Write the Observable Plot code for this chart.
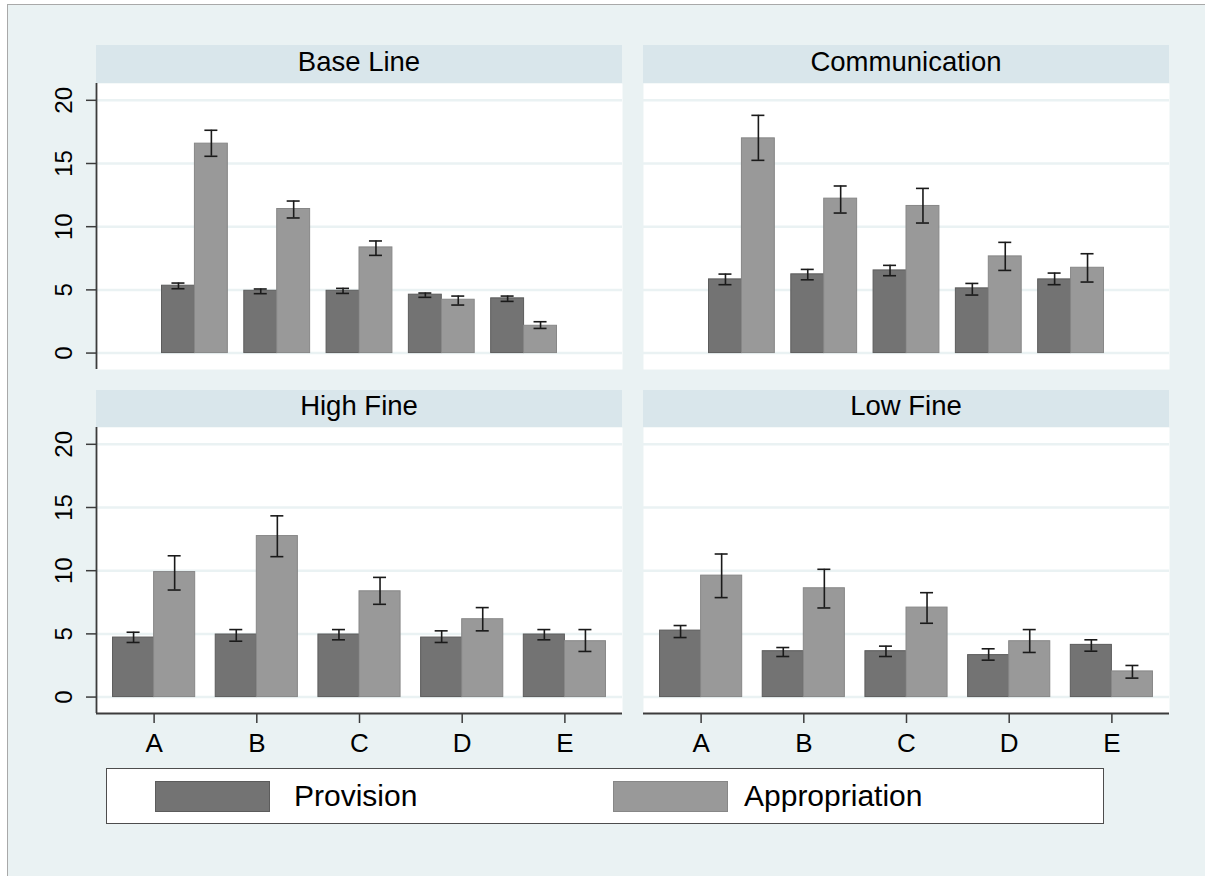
<!DOCTYPE html>
<html>
<head>
<meta charset="utf-8">
<script src="https://cdn.jsdelivr.net/npm/d3@7"></script>
<script src="https://cdn.jsdelivr.net/npm/@observablehq/plot@0.6"></script>
<style>
  body { margin: 0; background: #fff; font-family: "Liberation Sans", Arial, sans-serif; }
  #page { position: relative; width: 1205px; height: 876px; overflow: hidden; background: #fff; }
  #bg { position: absolute; left: 7px; top: 4px; right: 0; bottom: 0; background: #EAF2F3;
        border-left: 1px solid #A9A9A9; border-top: 1px solid #A9A9A9; }
  .hdr { position: absolute; background: #D9E6EB; text-align: center; font-size: 27.5px; color: #000; white-space: nowrap; }
  .plot { position: absolute; }
  .plot svg { display: block; }
  #legend { position: absolute; left: 106px; top: 768px; width: 998px; height: 56px; box-sizing: border-box;
            background: #fff; border: 1.5px solid #4d4d4d; }
  .sw { position: absolute; width: 115px; height: 31px; box-sizing: border-box; }
  .lt { position: absolute; font-size: 30px; line-height: 30px; color: #000; white-space: nowrap; }
</style>
</head>
<body>
<div id="page">
  <div id="bg"></div>
</div>
<script>
// ---------- data ----------
const categories = ["A", "B", "C", "D", "E"];
const panels = ["Base Line", "Communication", "High Fine", "Low Fine"];
const seriesNames = ["Provision", "Appropriation"];
const yTicks = [0, 5, 10, 15, 20];

// per panel (Base Line, Communication, High Fine, Low Fine), per category A..E
const provisionMean = [
  [5.33, 4.93, 4.93, 4.62, 4.33],
  [5.83, 6.23, 6.54, 5.12, 5.83],
  [4.71, 4.95, 4.95, 4.71, 4.95],
  [5.26, 3.63, 3.63, 3.32, 4.13]
];
const provisionLow = [
  [5.09, 4.70, 4.72, 4.41, 4.09],
  [5.41, 5.80, 6.12, 4.59, 5.41],
  [4.32, 4.42, 4.53, 4.32, 4.53],
  [4.71, 3.21, 3.21, 2.92, 3.63]
];
const provisionHigh = [
  [5.54, 5.07, 5.12, 4.75, 4.51],
  [6.25, 6.62, 6.94, 5.51, 6.33],
  [5.13, 5.34, 5.34, 5.24, 5.34],
  [5.66, 3.92, 4.03, 3.82, 4.53]
];
const appropriationMean = [
  [16.57, 11.40, 8.36, 4.22, 2.16],
  [16.99, 12.22, 11.64, 7.65, 6.75],
  [9.89, 12.74, 8.37, 6.16, 4.42],
  [9.61, 8.61, 7.08, 4.42, 2.03]
];
const appropriationLow = [
  [15.57, 10.69, 7.73, 3.80, 1.95],
  [15.25, 11.08, 10.29, 6.54, 5.62],
  [8.47, 11.11, 7.34, 5.24, 3.61],
  [7.87, 7.05, 5.84, 3.53, 1.50]
];
const appropriationHigh = [
  [17.63, 12.03, 8.87, 4.51, 2.48],
  [18.81, 13.22, 13.03, 8.76, 7.86],
  [11.18, 14.34, 9.47, 7.08, 5.34],
  [11.32, 10.11, 8.26, 5.34, 2.50]
];

// ---------- styling / layout ----------
const COLORS = { Provision: { fill: "#737373", stroke: "#5c5c5c" }, Appropriation: { fill: "#999999", stroke: "#878787" } };
const GRID = "#EAF2F3";
const AXIS = "#3c3c3c";
const FONT = "'Liberation Sans', Arial, sans-serif";
const PLOT_W = 526, PLOT_H = 286;
const Y_DOMAIN = [-1.3, 21.33];
const BAR_W = 0.4;
const layout = [
  { left: 96, top: 83, hdrTop: 45, hdrH: 38, showY: true, showX: false, xDomain: [-0.196, 6.196] },
  { left: 643, top: 83, hdrTop: 45, hdrH: 38, showY: false, showX: false, xDomain: [-0.196, 6.196] },
  { left: 96, top: 427, hdrTop: 390, hdrH: 37, showY: true, showX: true, xDomain: [0.439, 5.561] },
  { left: 643, top: 427, hdrTop: 390, hdrH: 37, showY: false, showX: true, xDomain: [0.439, 5.561] }
];

const page = document.getElementById("page");

function rowsFor(k) {
  return categories.flatMap((c, i) => [
    { cat: c, series: "Provision", x1: i + 1 - BAR_W, x2: i + 1, pos: i + 1 - BAR_W / 2,
      v: provisionMean[k][i], lo: provisionLow[k][i], hi: provisionHigh[k][i] },
    { cat: c, series: "Appropriation", x1: i + 1, x2: i + 1 + BAR_W, pos: i + 1 + BAR_W / 2,
      v: appropriationMean[k][i], lo: appropriationLow[k][i], hi: appropriationHigh[k][i] }
  ]);
}

panels.forEach((name, k) => {
  const L = layout[k];
  // header strip
  const h = document.createElement("div");
  h.className = "hdr";
  h.style.left = L.left + "px";
  h.style.top = L.hdrTop + "px";
  h.style.width = PLOT_W + "px";
  h.style.height = L.hdrH + "px";
  h.style.lineHeight = (L.hdrH - 4.5) + "px";
  h.textContent = name;
  page.appendChild(h);

  const rows = rowsFor(k);
  const mL = L.showY ? 56 : 0;
  const mB = L.showX ? 50 : 0;
  const pxPerUnit = PLOT_W / (L.xDomain[1] - L.xDomain[0]);
  const cap = 6.5 / pxPerUnit;

  const marks = [
    Plot.frame({ fill: "white", stroke: "none" }),
    Plot.ruleY(yTicks, { y: d => d, stroke: GRID, strokeWidth: 2.5 })
  ];
  for (const s of seriesNames) {
    marks.push(Plot.rectY(rows.filter(r => r.series === s), {
      x1: "x1", x2: "x2", y1: 0, y2: "v",
      fill: COLORS[s].fill, stroke: COLORS[s].stroke, strokeWidth: 1
    }));
  }
  marks.push(
    Plot.ruleX(rows, { x: "pos", y1: "lo", y2: "hi", stroke: "#1a1a1a", strokeWidth: 1.6 }),
    Plot.ruleY(rows, { y: "hi", x1: d => d.pos - cap, x2: d => d.pos + cap, stroke: "#1a1a1a", strokeWidth: 1.6 }),
    Plot.ruleY(rows, { y: "lo", x1: d => d.pos - cap, x2: d => d.pos + cap, stroke: "#1a1a1a", strokeWidth: 1.6 })
  );
  if (L.showY) {
    marks.push(
      Plot.axisY({ ticks: yTicks, tickSize: 10, tickFormat: () => "", stroke: AXIS, strokeWidth: 1.5 }),
      Plot.text(yTicks, { x: L.xDomain[0], y: d => d, text: d => String(d), rotate: -90, dx: -32,
        textAnchor: "middle", lineAnchor: "middle", fontSize: 24, fill: "#000" }),
      Plot.ruleX([L.xDomain[0]], { stroke: AXIS, strokeWidth: 1.8 })
    );
  }
  if (L.showX) {
    marks.push(
      Plot.ruleY([Y_DOMAIN[0]], { stroke: AXIS, strokeWidth: 1.8 }),
      Plot.axisX({ ticks: [1, 2, 3, 4, 5], tickFormat: i => categories[i - 1], tickSize: 10, tickPadding: 10,
        fontSize: 26, stroke: AXIS, strokeWidth: 1.5, fill: "#000", label: null })
    );
  }

  const chart = Plot.plot({
    width: PLOT_W + mL,
    height: PLOT_H + mB,
    marginLeft: mL, marginRight: 0, marginTop: 0, marginBottom: mB,
    x: { type: "linear", domain: L.xDomain, axis: null },
    y: { type: "linear", domain: Y_DOMAIN, axis: null },
    style: { background: "transparent", overflow: "visible", fontFamily: FONT, maxWidth: "none" },
    marks
  });
  const wrap = document.createElement("div");
  wrap.className = "plot";
  wrap.style.left = (L.left - mL) + "px";
  wrap.style.top = L.top + "px";
  wrap.appendChild(chart);
  page.appendChild(wrap);
});

// ---------- legend ----------
const legend = document.createElement("div");
legend.id = "legend";
page.appendChild(legend);
const legendPos = [{ sw: 155, tx: 294 }, { sw: 613, tx: 744 }];
seriesNames.forEach((s, i) => {
  const sw = document.createElement("div");
  sw.className = "sw";
  sw.style.left = legendPos[i].sw + "px";
  sw.style.top = "781px";
  sw.style.background = COLORS[s].fill;
  sw.style.border = "1px solid " + COLORS[s].stroke;
  page.appendChild(sw);
  const t = document.createElement("div");
  t.className = "lt";
  t.style.left = legendPos[i].tx + "px";
  t.style.top = "781px";
  t.textContent = s;
  page.appendChild(t);
});
</script>
</body>
</html>
